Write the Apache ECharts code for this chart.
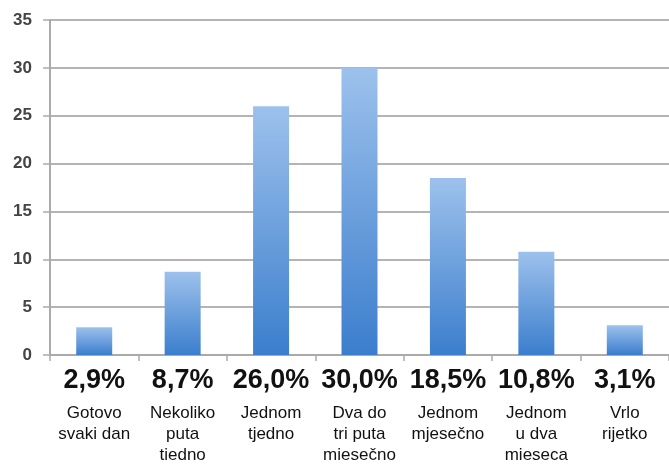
<!DOCTYPE html>
<html><head><meta charset="utf-8">
<script src="https://cdn.jsdelivr.net/npm/echarts@6/dist/echarts.min.js"></script>
<style>html,body{margin:0;padding:0;background:#fff}#c{width:669px;height:464px}</style>
</head><body><div id="c"></div>
<script>
const categories = ["Gotovo\nsvaki dan", "Nekoliko\nputa\ntiedno", "Jednom\ntjedno", "Dva do\ntri puta\nmiesečno", "Jednom\nmjesečno", "Jednom\nu dva\nmieseca", "Vrlo\nrijetko"];
const values = [2.9, 8.7, 26.0, 30.0, 18.5, 10.8, 3.1];
const percentLabels = ["2,9%", "8,7%", "26,0%", "30,0%", "18,5%", "10,8%", "3,1%"];
const yTicks = [0, 5, 10, 15, 20, 25, 30, 35];

const chart = echarts.init(document.getElementById('c'), null, {renderer: 'canvas'});
chart.setOption({
  animation: false,
  grid: {left: 50, right: 0, top: 20, bottom: 107},
  xAxis: {
    type: 'category',
    data: categories,
    axisLine: {lineStyle: {color: '#aaaaaa', width: 2}},
    axisTick: {show: true, length: 6, lineStyle: {color: '#aaaaaa', width: 1.5}},
    axisLabel: {
      interval: 0,
      margin: 4,
      formatter: function (v, i) {
        const lines = v.split('\n').map(s => '{n|' + s + '}').join('\n');
        return '{p|' + percentLabels[i] + '}\n' + lines;
      },
      rich: {
        p: {fontFamily: 'Liberation Sans', fontWeight: 'bold', fontSize: 27, color: '#111', lineHeight: 44, align: 'center'},
        n: {fontFamily: 'Liberation Sans', fontSize: 17, color: '#111', lineHeight: 21, align: 'center'}
      }
    }
  },
  yAxis: {
    type: 'value',
    min: 0, max: 35, interval: 5,
    axisLine: {show: true, lineStyle: {color: '#aaaaaa', width: 2}},
    axisTick: {show: true, length: 7, lineStyle: {color: '#aaaaaa', width: 1.5}},
    splitLine: {lineStyle: {color: '#b4b4b4', width: 2}},
    axisLabel: {
      margin: 18,
      padding: [5, 0, 0, 0],
      fontFamily: 'Liberation Sans', fontWeight: 'bold', fontSize: 17, color: '#444',
      formatter: function (v) { return yTicks.indexOf(v) >= 0 ? String(v) : ''; }
    }
  },
  series: [{
    type: 'bar',
    data: values,
    barWidth: 36,
    itemStyle: {
      color: new echarts.graphic.LinearGradient(0, 0, 0, 1, [
        {offset: 0, color: '#9dc1ec'},
        {offset: 1, color: '#3b7ecd'}
      ])
    }
  }]
});
</script></body></html>
